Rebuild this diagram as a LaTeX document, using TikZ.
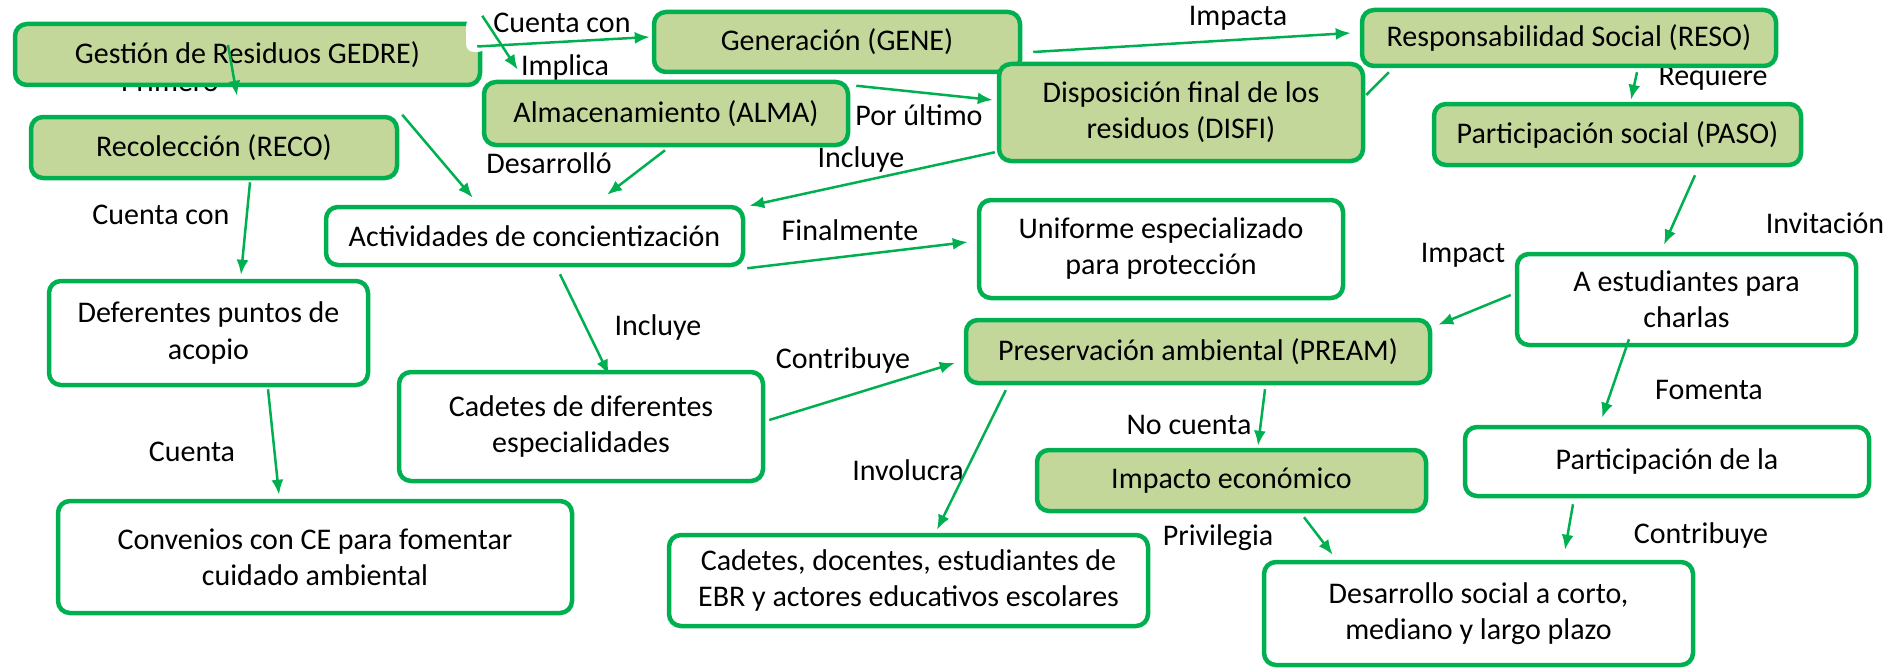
\documentclass[tikz,border=0pt]{standalone}
\usepackage{fontspec}
\setmainfont{Carlito}
\usetikzlibrary{arrows.meta}
\definecolor{verde}{HTML}{00B050}
\definecolor{olivo}{HTML}{C4D79B}

\begin{document}
\begin{tikzpicture}[x=1pt,y=-1pt,
	concepto/.style={draw=verde,line width=4.5pt,rounded corners=12pt,align=center,inner sep=0pt,font=\fontsize{30}{36}\selectfont},
	tema/.style={concepto,fill=olivo},
	idea/.style={concepto,fill=white},
	enlace/.style={inner sep=0pt,font=\fontsize{30}{36}\selectfont},
	flecha/.style={draw=verde,line width=2.5pt,-{Latex[length=15pt,width=12pt]}}]
		\useasboundingbox (0,0) rectangle (1899,669);
		%
		% palabras de enlace
		\node[enlace] (lgene) at (562,23) {Cuenta con};
		\node[enlace] (lalma) at (565,68) {Implica};
		\node[enlace,anchor=base] (lreco) at (170,92) {Primero};
		\node[enlace] (ldef) at (161,215) {Cuenta con};
		\node[enlace] (lconv) at (192,452) {Cuenta};
		\node[enlace] (ldesa) at (549,163) {Desarrolló};
		\node[enlace] (lult) at (919,115) {Por último};
		\node[enlace] (linc) at (861,160) {Incluye};
		\node[enlace] (limpa) at (1238,18) {Impacta};
		\node[enlace] (lreq) at (1713,78) {Requiere};
		\node[enlace] (linv) at (1825,223) {Invitación};
		\node[enlace] (limp) at (1463,255) {Impact};
		\node[enlace] (lfom) at (1709,390) {Fomenta};
		\node[enlace] (lcon) at (1701,535) {Contribuye};
		\node[enlace] (lpri) at (1218,538) {Privilegia};
		\node[enlace] (lnoc) at (1189,425) {No cuenta};
		\node[enlace] (linvo) at (908,470) {Involucra};
		\node[enlace] (lcont) at (843,360) {Contribuye};
		\node[enlace] (lincl) at (658,327) {Incluye};
		\node[enlace] (lfin) at (850,230) {Finalmente};
		%
		% conceptos
		\node[tema,minimum width=465pt,minimum height=61pt] (gedre) at (247.5,54.5) {Gestión de Residuos GEDRE)};
		\node[tema,minimum width=366pt,minimum height=61pt] (reco) at (214,147.5) {Recolección (RECO)};
		\node[tema,minimum width=364pt,minimum height=63pt] (alma) at (666,113.5) {Almacenamiento (ALMA)};
		\node[tema,minimum width=366pt,minimum height=60pt] (gene) at (837,42) {Generación (GENE)};
		\node[tema,minimum width=364pt,minimum height=97pt] (disfi) at (1181,112.5) {Disposición final de los\\residuos (DISFI)};
		\node[tema,minimum width=414pt,minimum height=56pt] (reso) at (1569,38) {Responsabilidad Social (RESO)};
		\node[tema,minimum width=367pt,minimum height=61pt] (paso) at (1617.5,134.5) {Participación social (PASO)};
		\node[idea,minimum width=417pt,minimum height=58pt] (act) at (534.5,236) {Actividades de concientización};
		\node[idea,minimum width=364pt,minimum height=98pt] (uni) at (1161,249) {Uniforme especializado\\para protección};
		\node[idea,minimum width=339pt,minimum height=91pt] (aest) at (1686.5,299.5) {A estudiantes para\\charlas};
		\node[idea,minimum width=319pt,minimum height=104pt] (def) at (208.5,333) {Deferentes puntos de\\acopio};
		\node[idea,minimum width=364pt,minimum height=109pt] (cadd) at (581,426.5) {Cadetes de diferentes\\especialidades};
		\node[tema,minimum width=464pt,minimum height=63pt] (pream) at (1198,351.5) {Preservación ambiental (PREAM)};
		\node[tema,minimum width=389pt,minimum height=61pt] (imp) at (1231.5,480.5) {Impacto económico};
		\node[idea,minimum width=404pt,minimum height=69pt] (part) at (1667,461.5) {Participación de la};
		\node[idea,minimum width=514pt,minimum height=112pt] (conv) at (315,557) {Convenios con CE para fomentar\\cuidado ambiental};
		\node[idea,minimum width=479pt,minimum height=91pt] (cadoc) at (908.5,580.5) {Cadetes, docentes, estudiantes de\\EBR y actores educativos escolares};
		\node[idea,minimum width=429pt,minimum height=103pt] (des) at (1478.5,613.5) {Desarrollo social a corto,\\mediano y largo plazo};
		\fill[white,rounded corners=8pt] (466,18) rectangle (486,52);
		%
		% conectores
		\draw[flecha] ([shift={(-5,-8)}]gedre.east) -- ([shift={(-2,-5)}]gene.west);
		\draw[flecha] ([shift={(0,-6)}]gedre.north east) -- ([shift={(36,-10)}]alma.north west);
		\draw[flecha] ([shift={(-19.5,-9.5)}]gedre.center) -- ([shift={(23,-19)}]reco.north);
		\draw[flecha] ([shift={(3,0)}]reco.north east) -- ([shift={(149,-7)}]act.north west);
		\draw[flecha] ([shift={(36,2)}]reco.south) -- ([shift={(32.5,-4)}]def.north);
		\draw[flecha] ([shift={(59.5,2)}]def.south) -- ([shift={(-36,-4)}]conv.north);
		\draw[flecha] ([shift={(-1,3)}]alma.south) -- ([shift={(72.5,-10)}]act.north);
		\draw[flecha] ([shift={(6,6)}]alma.north east) -- ([shift={(-4,-12.5)}]disfi.west);
		\draw[flecha] ([shift={(-2,-11)}]disfi.south west) -- ([shift={(4,1)}]act.north east);
		\draw[flecha] ([shift={(11,10)}]gene.east) -- ([shift={(-9,-5)}]reso.west);
		\draw[draw=verde,line width=2.5pt] ([shift={(29,4)}]reso.south west) -- ([shift={(1,-17.5)}]disfi.east);
		\draw[flecha] ([shift={(68,4)}]reso.south) -- ([shift={(13.5,-2)}]paso.north);
		\draw[flecha] ([shift={(77.5,8)}]paso.south) -- ([shift={(-22.5,-7)}]aest.north);
		\draw[flecha] ([shift={(-4,-4.5)}]aest.west) -- ([shift={(6,7)}]pream.north east);
		\draw[flecha] ([shift={(-57.5,-8)}]aest.south) -- ([shift={(-65,-7)}]part.north);
		\draw[flecha] ([shift={(-94,6)}]part.south) -- ([shift={(86.5,-10)}]des.north);
		\draw[flecha] ([shift={(72.5,4)}]imp.south) -- ([shift={(71,-5)}]des.north west);
		\draw[flecha] ([shift={(67,4)}]pream.south) -- ([shift={(26.5,-2)}]imp.north);
		\draw[flecha] ([shift={(42,5)}]pream.south west) -- ([shift={(28.5,-3)}]cadoc.north);
		\draw[flecha] ([shift={(4,-6.5)}]cadd.east) -- ([shift={(-9,11.5)}]pream.west);
		\draw[flecha] ([shift={(25.5,7)}]act.south) -- ([shift={(28,5)}]cadd.north);
		\draw[flecha] ([shift={(2,1)}]act.south east) -- ([shift={(-9,-7)}]uni.west);
\end{tikzpicture}
\end{document}
